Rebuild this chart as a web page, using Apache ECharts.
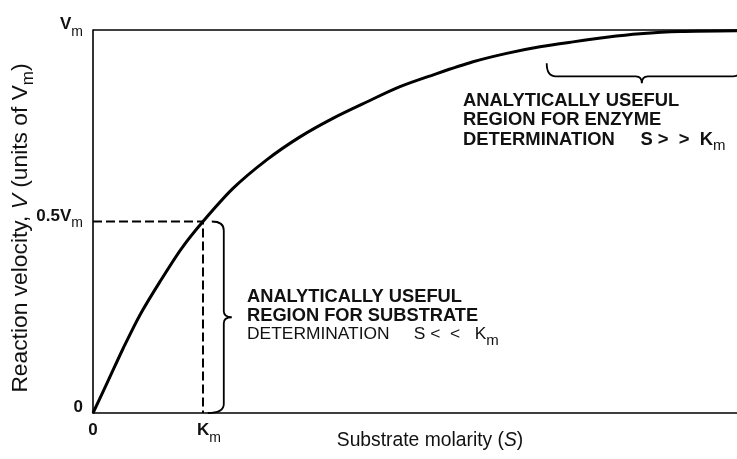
<!DOCTYPE html>
<html>
<head>
<meta charset="utf-8">
<script src="https://cdn.jsdelivr.net/npm/echarts@6/dist/echarts.min.js"></script>
<style>
  html, body { margin: 0; padding: 0; background: #fff; }
  #chart { width: 737px; height: 459px; }
</style>
</head>
<body>
<div id="chart"></div>
<script>
// Saturation curve: substrate in multiples of Km, velocity as a fraction of Vm
const substrate = [0, 0.139, 0.275, 0.427, 0.609, 0.806, 1.0, 1.275, 1.579, 1.882, 2.185, 2.488, 2.791, 3.094, 3.455, 3.761, 4.064, 4.364, 4.670, 4.973, 5.336, 5.855];
const velocity  = [0, 0.085, 0.169, 0.256, 0.343, 0.430, 0.5, 0.587, 0.661, 0.721, 0.770, 0.812, 0.852, 0.883, 0.917, 0.939, 0.956, 0.969, 0.981, 0.990, 0.996, 0.998];

// Half-maximal velocity is reached at S = Km
const kmGuideS = [0, 1, 1];
const kmGuideV = [0.5, 0.5, 0];

// Tick positions and their labels
const xTickValues = [0, 1];
const xTickLabels = ['{b|0}', '{g|}{b|K}{s|m}'];
const yTickValues = [0, 0.5, 1];
const yTickLabels = ['{b|0}', '{b|0.5V}{s|m}', '{b|V}{s|m}'];

const sMax = 5.855;

// Extents of the two braces (data units)
const substrateBrace = { s: 1.08, vFrom: 0.5, vTo: 0 };
const enzymeBrace = { v: 0.913, sFrom: 4.125, sTip: 4.99, sTo: 5.9 };

const FONT = '"Liberation Sans", Arial, Helvetica, sans-serif';

const tickRich = {
  g: { width: 12, lineHeight: 20 },
  b: { fontFamily: FONT, fontSize: 17, fontWeight: 'bold', color: '#111', lineHeight: 20, verticalAlign: 'top' },
  s: { fontFamily: FONT, fontSize: 14, color: '#111', lineHeight: 14, verticalAlign: 'top', padding: [9, 0, 0, 0] }
};

function substrateBracePath(api) {
  const top = api.coord([substrateBrace.s, substrateBrace.vFrom]);
  const bot = api.coord([substrateBrace.s, substrateBrace.vTo]);
  const tx = top[0], sx = tx + 12, px = sx + 8;
  const y0 = top[1], y1 = bot[1], ym = (y0 + y1) / 2;
  const r = 9, p = 6;
  return 'M' + tx + ',' + y0 +
    ' Q' + sx + ',' + y0 + ' ' + sx + ',' + (y0 + r) +
    ' L' + sx + ',' + (ym - p) +
    ' Q' + sx + ',' + ym + ' ' + px + ',' + ym +
    ' Q' + sx + ',' + ym + ' ' + sx + ',' + (ym + p) +
    ' L' + sx + ',' + (y1 - r) +
    ' Q' + sx + ',' + y1 + ' ' + (tx - 4) + ',' + y1;
}

function enzymeBracePath(api) {
  const left = api.coord([enzymeBrace.sFrom, enzymeBrace.v]);
  const right = api.coord([enzymeBrace.sTo, enzymeBrace.v]);
  const mid = api.coord([enzymeBrace.sTip, enzymeBrace.v])[0];
  const ty = left[1], sy = ty + 13, py = sy + 7;
  const x0 = left[0], x1 = right[0];
  const r = 9, p = 6;
  return 'M' + x0 + ',' + ty +
    ' Q' + x0 + ',' + sy + ' ' + (x0 + r) + ',' + sy +
    ' L' + (mid - p) + ',' + sy +
    ' Q' + mid + ',' + sy + ' ' + mid + ',' + py +
    ' Q' + mid + ',' + sy + ' ' + (mid + p) + ',' + sy +
    ' L' + (x1 - r) + ',' + sy +
    ' Q' + x1 + ',' + sy + ' ' + x1 + ',' + ty;
}

const chart = echarts.init(document.getElementById('chart'), null, { renderer: 'canvas' });

chart.setOption({
  animation: false,
  backgroundColor: '#fff',
  grid: { left: 93, right: 0, top: 30, bottom: 46, containLabel: false, outerBoundsMode: 'none' },
  xAxis: {
    type: 'value',
    min: 0,
    max: sMax,
    axisLine: { show: true, lineStyle: { color: '#000', width: 1.6 } },
    axisTick: { show: false },
    splitLine: { show: false },
    axisLabel: {
      customValues: xTickValues,
      margin: 9,
      formatter: function (v) { return xTickLabels[xTickValues.indexOf(v)] || ''; },
      rich: tickRich
    },
    name: '{n|Substrate molarity (}{i|S}{n|)}',
    nameLocation: 'middle',
    nameGap: 18,
    nameMoveOverlap: false,
    nameTextStyle: {
      padding: [0, 0, 0, 30],
      rich: {
        n: { fontFamily: FONT, fontSize: 19.3, color: '#111' },
        i: { fontFamily: FONT, fontSize: 19.3, fontStyle: 'italic', color: '#111' }
      }
    }
  },
  yAxis: {
    type: 'value',
    min: 0,
    max: 1,
    axisLine: { show: true, lineStyle: { color: '#000', width: 1.6 } },
    axisTick: { show: false },
    splitLine: { show: false },
    axisLabel: {
      customValues: yTickValues,
      margin: 10,
      padding: [0, 0, 8, 0],
      formatter: function (v) { return yTickLabels[yTickValues.indexOf(v)] || ''; },
      rich: tickRich
    },
    name: '{n|Reaction velocity, }{i|V}{n| (units of V}{s|m}{n|)}',
    nameLocation: 'middle',
    nameRotate: 90,
    nameGap: 60,
    nameMoveOverlap: false,
    nameTextStyle: {
      padding: [0, 13, 0, 0],
      rich: {
        n: { fontFamily: FONT, fontSize: 22.8, color: '#111', lineHeight: 24, verticalAlign: 'top' },
        i: { fontFamily: FONT, fontSize: 22.8, fontStyle: 'italic', color: '#111', lineHeight: 24, verticalAlign: 'top' },
        s: { fontFamily: FONT, fontSize: 17, color: '#111', lineHeight: 17, verticalAlign: 'top', padding: [11, 0, 0, 0] }
      }
    }
  },
  series: [
    {
      name: 'Km guide',
      type: 'line',
      data: kmGuideS.map(function (s, i) { return [s, kmGuideV[i]]; }),
      showSymbol: false,
      silent: true,
      lineStyle: { color: '#000', width: 2, type: [9, 4] },
      markLine: {
        silent: true,
        symbol: 'none',
        label: { show: false },
        lineStyle: { color: '#000', width: 1.6, type: 'solid' },
        data: [{ yAxis: 1 }]
      }
    },
    {
      name: 'Velocity',
      type: 'line',
      data: substrate.map(function (s, i) { return [s, velocity[i]]; }),
      smooth: 0.3,
      showSymbol: false,
      silent: true,
      lineStyle: { color: '#000', width: 3 }
    },
    {
      name: 'Substrate region',
      type: 'custom',
      silent: true,
      data: [[0, 0]],
      renderItem: function (params, api) {
        return { type: 'path', shape: { pathData: substrateBracePath(api) }, style: { fill: 'none', stroke: '#000', lineWidth: 1.8 } };
      }
    },
    {
      name: 'Enzyme region',
      type: 'custom',
      silent: true,
      data: [[0, 0]],
      renderItem: function (params, api) {
        return { type: 'path', shape: { pathData: enzymeBracePath(api) }, style: { fill: 'none', stroke: '#000', lineWidth: 1.8 } };
      }
    }
  ],
  graphic: [
    {
      type: 'text',
      left: 247,
      top: 288,
      silent: true,
      style: {
        text: '{b|ANALYTICALLY USEFUL}\n{b|REGION FOR SUBSTRATE}\n{r|DETERMINATION     S <  <   K}{s|m}',
        rich: {
          b: { fontFamily: FONT, fontSize: 18.3, fontWeight: 'bold', fill: '#111', lineHeight: 18.8, verticalAlign: 'top' },
          r: { fontFamily: FONT, fontSize: 17.4, fill: '#111', lineHeight: 18.8, verticalAlign: 'top' },
          s: { fontFamily: FONT, fontSize: 15, fill: '#111', lineHeight: 15, verticalAlign: 'top', padding: [8, 0, 0, 0] }
        }
      }
    },
    {
      type: 'text',
      left: 463,
      top: 92,
      silent: true,
      style: {
        text: '{b|ANALYTICALLY USEFUL}\n{b|REGION FOR ENZYME}\n{b|DETERMINATION     S >  >  K}{s|m}',
        rich: {
          b: { fontFamily: FONT, fontSize: 18.4, fontWeight: 'bold', fill: '#111', lineHeight: 19.3, verticalAlign: 'top' },
          s: { fontFamily: FONT, fontSize: 15, fill: '#111', lineHeight: 15, verticalAlign: 'top', padding: [8, 0, 0, 0] }
        }
      }
    }
  ]
});
</script>
</body>
</html>
